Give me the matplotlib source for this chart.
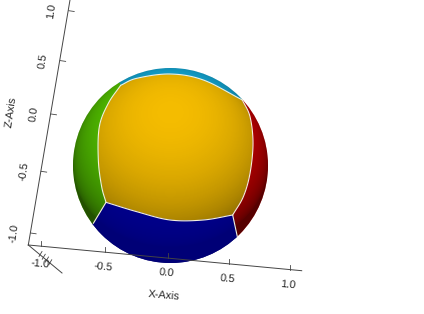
import numpy as np
import matplotlib
matplotlib.use("Agg")
import matplotlib.pyplot as plt
from matplotlib.path import Path
from matplotlib.patches import PathPatch, Circle

W, H = 424, 314
x_ticks = [-1.0, -0.5, 0.0, 0.5, 1.0]
z_ticks = [-1.0, -0.5, 0.0, 0.5, 1.0]
y_ticks = [-1.0, -0.5, 0.0, 0.5]
x_labels = ["-1.0", "-0.5", "0.0", "0.5", "1.0"]
z_labels = ["-1.0", "-0.5", "0.0", "0.5", "1.0"]
region_colors = {"yellow": "#f4bc00", "blue": "#00009c", "red": "#d80000",
                 "green": "#58cc00", "cyan": "#14aad8"}

plt.rcParams["font.family"] = ["Liberation Sans", "DejaVu Sans"]
plt.rcParams["text.hinting"] = "no_hinting"
plt.rcParams["text.hinting_factor"] = 1
fig = plt.figure(figsize=(W/100, H/100), dpi=100)
ax = fig.add_axes([0, 0, 1, 1])
ax.set_xlim(0, W); ax.set_ylim(H, 0); ax.axis("off")

cx, cy, R = 170.5, 165.5, 97.5
def zm(p):
    return [(70 + a/3, 60 + b/3) for a, b in p]

yellow_top = zm([(152,76),(200,55),(300,42),(400,60),(517,120)])
yellow_right = zm([(517,120),(540,170),(549,250),(540,340),(520,410),(488,465)])
yellow_bottom = zm([(488,465),(400,480),(300,480),(200,455),(108,427)])
yellow_left = zm([(108,427),(95,380),(85,300),(88,200),(115,130),(152,76)])
blue_left = zm([(108,427),(70,490)])
blue_right = zm([(488,465),(502,530)])

def smooth(pts, n=12):
    p = np.array(pts, float)
    p = np.vstack([2*p[0]-p[1], p, 2*p[-1]-p[-2]])
    out = []
    for i in range(1, len(p)-2):
        for t in np.linspace(0, 1, n, endpoint=False):
            a, b, c, d = p[i-1], p[i], p[i+1], p[i+2]
            out.append(0.5*((2*b)+(-a+c)*t+(2*a-5*b+4*c-d)*t*t+(-a+3*b-3*c+d)*t**3))
    out.append(p[-2])
    return np.array(out)

def outer(a0, a1):
    t = np.radians(np.linspace(a0, a1, 80))
    return np.c_[cx + (R+3)*np.cos(t), cy + (R+3)*np.sin(t)]

def angle(pt):
    return np.degrees(np.arctan2(pt[1]-cy, pt[0]-cx))

top_l, top_r = yellow_top[0], yellow_top[-1]
bl, br = blue_left[-1], blue_right[-1]
sT, sY, sB, sL = smooth(yellow_top), smooth(yellow_right), smooth(yellow_bottom), smooth(yellow_left)
yel = np.vstack([sT, sY, sB, sL])

def aa(a0, a1):
    a0 %= 360; a1 %= 360
    if a1 < a0: a1 += 360
    return a0, a1

polys = {
    "yellow": yel,
    "cyan": np.vstack([sT[::-1], outer(*aa(angle(top_l), angle(top_r)))]),
    "red": np.vstack([outer(*aa(angle(top_r), angle(br))), np.array(blue_right[::-1]), sY[::-1]]),
    "blue": np.vstack([np.array(blue_right), outer(*aa(angle(br), angle(bl))), np.array(blue_left[::-1]), sB[::-1]]),
    "green": np.vstack([outer(*aa(angle(bl), angle(top_l))), sL[::-1], np.array(blue_left)]),
}
for name, poly in polys.items():
    pt = PathPatch(Path(poly, closed=False), fc=region_colors[name], ec=region_colors[name], lw=0.5, zorder=2)
    ax.add_patch(pt); pt.set_clip_path(Circle((cx, cy), R, transform=ax.transData))

# shading
gx, gy = np.meshgrid(np.arange(W)+.5, np.arange(H)+.5)
nx, ny = (gx-cx)/R, (cy-gy)/R
r2 = nx**2 + ny**2
nz = np.sqrt(np.clip(1-r2, 0, 1))
L = np.array([0.0, 0.55, 0.835])
d = np.clip(nx*L[0] + ny*L[1] + nz*L[2], 0, 1)
bright = 0.40 + 0.60*d**0.7
rgba = np.zeros((H, W, 4)); rgba[..., 3] = np.clip(1-bright, 0, 1)
im = ax.imshow(rgba, extent=(0, W, H, 0), zorder=3, interpolation="bilinear", aspect="auto")
im.set_clip_path(Circle((cx, cy), R, transform=ax.transData))
ax.set_xlim(0, W); ax.set_ylim(H, 0)

# the blue cap keeps most of its saturation down to the rim
veil = PathPatch(Path(polys["blue"], closed=False), fc="#00009c", ec="none", alpha=0.6, zorder=3.5)
ax.add_patch(veil); veil.set_clip_path(Circle((cx, cy), R, transform=ax.transData))

for seg in [sT, sY, sB, sL, np.array(blue_left), np.array(blue_right)]:
    ax.plot(seg[:, 0], seg[:, 1], color="#f4f0dc", lw=0.8, zorder=4, solid_capstyle="round")

# axes
ink = "#444444"
def xp(v):
    s = 124.3*v/(1+0.0165*v)
    return 167.7 + s, 258 + 0.0965*s
def zp(v):
    s = 110.6*v/(1+0.0706*v)
    return 51 + 0.1714*s, 114 - s
def yp(v):
    t = (v+1)/2
    return 40 + 13*t, 254.5 + 11*t

ax.plot([28.3, 301.7], [245, 270.7], color=ink, lw=0.7, zorder=5)
ax.plot([28.3, 70], [245, 0], color=ink, lw=0.7, zorder=5)
ax.plot([28.3, 62], [245, 273], color=ink, lw=0.7, zorder=5)
for v, lab in zip(x_ticks, x_labels):
    x, y = xp(v)
    ax.plot([x, x], [y, y-5], color=ink, lw=0.6, zorder=5)
    ax.text(x-1.5, y+(15 if v > -1 else 18.5), lab, fontsize=7.6, ha="center", va="center", rotation=-5, color="#222222", zorder=6)
for v, lab in zip(z_ticks, z_labels):
    x, y = zp(v)
    ax.plot([x, x+5.5], [y, y+0.8], color=ink, lw=0.6, zorder=5)
    ax.text(x-17, y, lab, fontsize=7.6, ha="center", va="center", rotation=82, color="#222222", zorder=6)
for v in y_ticks:
    x, y = yp(v)
    ax.plot([x-1, x+2], [y+2, y-3], color=ink, lw=0.6, zorder=5)
ax.text(164, 296, "X-Axis", fontsize=7.6, ha="center", va="center", rotation=-5, color="#222222")
ax.text(12, 112, "Z-Axis", fontsize=7.6, ha="center", va="center", rotation=82, color="#222222")
fig.savefig("out.png", dpi=100)
